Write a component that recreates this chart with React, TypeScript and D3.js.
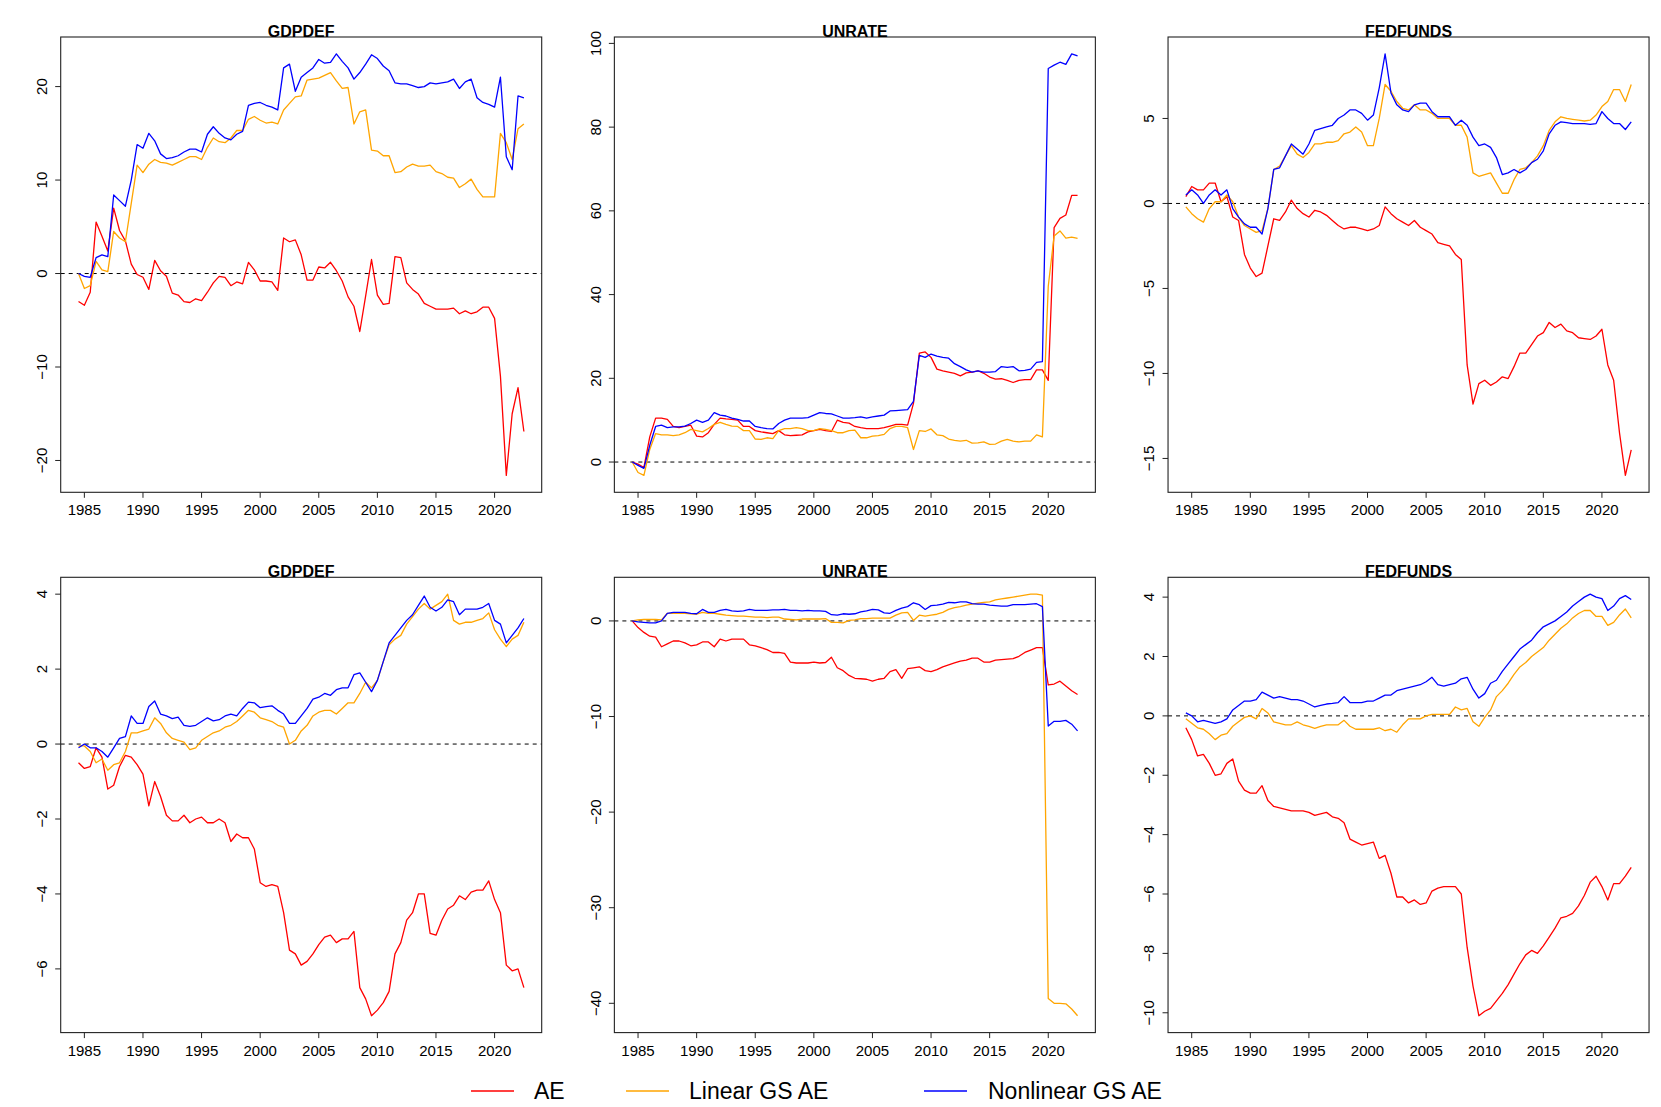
import React from 'react';
import * as d3 from 'd3';

// semi-annual sample dates
const years = [
  1984.5, 1985, 1985.5, 1986, 1986.5, 1987, 1987.5, 1988, 1988.5, 1989,
  1989.5, 1990, 1990.5, 1991, 1991.5, 1992, 1992.5, 1993, 1993.5, 1994,
  1994.5, 1995, 1995.5, 1996, 1996.5, 1997, 1997.5, 1998, 1998.5, 1999,
  1999.5, 2000, 2000.5, 2001, 2001.5, 2002, 2002.5, 2003, 2003.5, 2004,
  2004.5, 2005, 2005.5, 2006, 2006.5, 2007, 2007.5, 2008, 2008.5, 2009,
  2009.5, 2010, 2010.5, 2011, 2011.5, 2012, 2012.5, 2013, 2013.5, 2014,
  2014.5, 2015, 2015.5, 2016, 2016.5, 2017, 2017.5, 2018, 2018.5, 2019,
  2019.5, 2020, 2020.5, 2021, 2021.5, 2022, 2022.5,
];

// top row, GDPDEF
const gdpTopAE = [
  -3.0, -3.4, -2.0, 5.5, 4.0, 2.4, 7.0, 4.6, 3.5, 1.0,
  -0.1, -0.4, -1.7, 1.4, 0.3, -0.3, -2.1, -2.3, -3.0, -3.1,
  -2.7, -2.9, -2.0, -1.0, -0.3, -0.4, -1.3, -0.9, -1.1, 1.2,
  0.4, -0.8, -0.8, -0.9, -1.8, 3.8, 3.4, 3.6, 2.0, -0.7,
  -0.7, 0.7, 0.6, 1.2, 0.3, -0.8, -2.5, -3.5, -6.2, -2.4,
  1.5, -2.3, -3.3, -3.2, 1.8, 1.7, -1.0, -1.7, -2.2, -3.2,
  -3.5, -3.8, -3.8, -3.8, -3.7, -4.3, -4.0, -4.3, -4.1, -3.6,
  -3.6, -4.8, -11.0, -21.6, -15.0, -12.2, -16.9,
];
const gdpTopLin = [
  0, -1.6, -1.3, 1.3, 0.4, 0.2, 4.5, 3.8, 3.4, 7.5,
  11.6, 10.8, 11.7, 12.2, 11.9, 11.8, 11.6, 11.9, 12.2, 12.5,
  12.5, 12.2, 13.5, 14.5, 14.1, 14.0, 14.5, 15.3, 15.3, 16.5,
  16.8, 16.4, 16.1, 16.2, 16.0, 17.5, 18.2, 18.9, 19.0, 20.7,
  20.8, 20.9, 21.2, 21.5, 20.6, 19.8, 19.9, 16.0, 17.3, 17.5,
  13.2, 13.1, 12.6, 12.6, 10.8, 10.9, 11.4, 11.7, 11.5, 11.5,
  11.6, 10.9, 10.7, 10.3, 10.2, 9.2, 9.6, 10.1, 9.0, 8.2,
  8.2, 8.2, 15.0, 14.0, 12.2, 15.5, 16.0,
];
const gdpTopNonlin = [
  0, -0.3, -0.4, 1.7, 2.0, 1.8, 8.4, 7.8, 7.2, 10.0,
  13.8, 13.4, 15.0, 14.2, 12.8, 12.3, 12.4, 12.6, 13.0, 13.3,
  13.3, 13.0, 14.9, 15.7, 15.0, 14.5, 14.3, 14.9, 15.2, 18.0,
  18.2, 18.3, 18.0, 17.8, 17.5, 22.0, 22.4, 19.5, 21.0, 21.5,
  22.0, 22.9, 22.5, 22.6, 23.5, 22.7, 22.0, 20.8, 21.5, 22.4,
  23.4, 23.0, 22.2, 21.7, 20.4, 20.3, 20.3, 20.1, 19.9, 20.0,
  20.4, 20.3, 20.4, 20.5, 20.8, 19.8, 20.5, 20.8, 18.8, 18.3,
  18.1, 17.8, 21.0, 12.5, 11.1, 19.0, 18.8,
];

// top row, UNRATE
const unTopAE = [
  0, -0.5, -1.3, 6.0, 10.5, 10.5, 10.2, 8.5, 8.2, 8.5,
  8.8, 6.2, 6.0, 7.0, 9.0, 10.5, 10.3, 10.2, 10.0, 8.5,
  8.5, 7.5, 7.2, 7.0, 6.8, 7.5, 6.5, 6.3, 6.4, 6.5,
  7.2, 7.5, 7.8, 7.5, 7.3, 10.0, 9.5, 9.3, 8.5, 8.2,
  8.0, 8.0, 8.0, 8.2, 8.6, 9.0, 9.0, 8.8, 14.0, 26.0,
  26.3, 25.0, 22.2, 21.8, 21.5, 21.2, 20.6, 21.3, 21.5, 21.8,
  21.2, 20.3, 19.8, 19.9, 19.5, 19.0, 19.5, 19.7, 19.7, 22.0,
  22.0, 19.5, 56.0, 58.2, 59.0, 63.7, 63.7,
];
const unTopLin = [
  0, -2.5, -3.2, 3.0, 6.8, 6.5, 6.5, 6.3, 6.5, 7.0,
  7.8, 7.5, 7.2, 8.0, 9.0, 9.5, 9.0, 8.6, 8.5, 7.5,
  7.5, 5.5, 5.4, 5.8, 5.6, 7.5, 8.0, 8.0, 8.2, 8.0,
  7.5, 7.5, 8.0, 7.8, 7.5, 7.0, 7.0, 7.5, 7.6, 5.8,
  5.8, 6.2, 6.3, 6.6, 8.0, 8.5, 8.5, 8.2, 3.0, 7.5,
  7.3, 7.9, 6.5, 6.3, 5.5, 5.2, 5.0, 5.2, 4.5, 4.6,
  4.8, 4.2, 4.3, 5.0, 5.4, 5.0, 4.8, 5.0, 5.0, 6.5,
  6.0, 42.0, 54.0, 55.2, 53.5, 53.7, 53.4,
];
const unTopNonlin = [
  0, -0.8, -1.5, 4.0, 8.5, 8.8, 8.2, 8.4, 8.4, 8.6,
  9.2, 10.0, 9.5, 10.0, 11.8, 11.2, 11.0, 10.5, 10.2, 9.8,
  9.8, 8.5, 8.2, 8.0, 7.9, 9.2, 10.0, 10.5, 10.5, 10.5,
  10.6, 11.2, 11.8, 11.6, 11.5, 11.0, 10.5, 10.5, 10.6, 10.8,
  10.5, 10.8, 11.0, 11.2, 12.2, 12.3, 12.4, 12.5, 14.5, 25.5,
  25.0, 25.8, 25.3, 25.0, 24.8, 23.5, 22.8, 22.0, 21.5, 21.8,
  21.5, 21.5, 21.6, 22.8, 22.6, 22.8, 21.8, 21.9, 22.2, 23.8,
  24.0, 94.0, 94.8, 95.5, 95.0, 97.5, 97.0,
];

// top row, FEDFUNDS
const ffTopAE = [
  0.4, 1.0, 0.8, 0.8, 1.2, 1.2, 0.1, 0.4, -0.8, -1.0,
  -3.0, -3.8, -4.3, -4.1, -2.5, -0.9, -1.0, -0.5, 0.2, -0.3,
  -0.6, -0.8, -0.4, -0.5, -0.7, -1.0, -1.3, -1.5, -1.4, -1.4,
  -1.5, -1.6, -1.5, -1.3, -0.2, -0.6, -0.9, -1.1, -1.3, -1.0,
  -1.4, -1.6, -1.8, -2.3, -2.4, -2.5, -3.0, -3.3, -9.5, -11.8,
  -10.6, -10.4, -10.7, -10.5, -10.2, -10.3, -9.6, -8.8, -8.8, -8.3,
  -7.8, -7.6, -7.0, -7.3, -7.1, -7.5, -7.6, -7.9, -7.95, -8.0,
  -7.8, -7.4, -9.5, -10.4, -13.5, -16.0, -14.5,
];
const ffTopLin = [
  -0.2, -0.6, -0.9, -1.1, -0.3, 0.1, 0.1, 0.5, 0.1, -0.8,
  -1.3, -1.5, -1.7, -1.6, -0.3, 2.0, 2.2, 2.8, 3.4, 2.9,
  2.7, 3.0, 3.5, 3.5, 3.6, 3.6, 3.7, 4.1, 4.2, 4.5,
  4.2, 3.4, 3.4, 5.0, 7.0, 6.6, 6.0, 5.6, 5.5, 5.8,
  5.5, 5.5, 5.3, 5.0, 5.0, 5.0, 4.6, 4.6, 3.9, 1.8,
  1.6, 1.7, 1.8, 1.2, 0.6, 0.6, 1.4, 2.0, 2.1, 2.4,
  2.8, 3.4, 4.3, 4.8, 5.1, 5.0, 4.95, 4.9, 4.85, 4.9,
  5.2, 5.7, 6.0, 6.7, 6.7, 6.0, 7.0,
];
const ffTopNonlin = [
  0.5, 0.8, 0.5, 0.0, 0.5, 0.8, 0.5, 0.8, -0.3, -0.8,
  -1.2, -1.4, -1.4, -1.8, -0.3, 2.0, 2.1, 2.8, 3.5, 3.2,
  2.9, 3.5, 4.3, 4.4, 4.5, 4.6, 5.0, 5.2, 5.5, 5.5,
  5.3, 4.9, 5.2, 6.8, 8.8, 6.5, 5.8, 5.5, 5.4, 5.8,
  5.9, 5.9, 5.4, 5.1, 5.1, 5.1, 4.6, 4.9, 4.6, 3.9,
  3.4, 3.5, 3.3, 2.7, 1.7, 1.8, 2.0, 1.8, 2.0, 2.4,
  2.6, 3.1, 4.1, 4.6, 4.8, 4.75, 4.7, 4.7, 4.7, 4.65,
  4.7, 5.4, 5.0, 4.7, 4.7, 4.35, 4.8,
];

// bottom row, GDPDEF
const gdpBotAE = [
  -0.5, -0.65, -0.6, -0.1, -0.35, -1.2, -1.1, -0.6, -0.3, -0.35,
  -0.55, -0.8, -1.65, -1.0, -1.4, -1.9, -2.05, -2.05, -1.9, -2.1,
  -2.0, -1.95, -2.1, -2.1, -2.0, -2.1, -2.6, -2.4, -2.5, -2.5,
  -2.8, -3.7, -3.8, -3.75, -3.8, -4.5, -5.5, -5.6, -5.9, -5.8,
  -5.6, -5.35, -5.15, -5.1, -5.3, -5.2, -5.2, -5.0, -6.5, -6.8,
  -7.25, -7.1, -6.9, -6.6, -5.6, -5.3, -4.7, -4.5, -4.0, -4.0,
  -5.05, -5.1, -4.7, -4.4, -4.3, -4.05, -4.15, -3.95, -3.9, -3.9,
  -3.65, -4.15, -4.5, -5.9, -6.05, -6.0, -6.5,
];
const gdpBotLin = [
  -0.05, -0.05, -0.2, -0.5, -0.4, -0.7, -0.55, -0.5, -0.2, 0.3,
  0.3, 0.35, 0.4, 0.7, 0.55, 0.3, 0.15, 0.1, 0.05, -0.15,
  -0.1, 0.1, 0.2, 0.3, 0.35, 0.45, 0.5, 0.6, 0.75, 0.9,
  0.85, 0.7, 0.65, 0.6, 0.5, 0.45, 0.0, 0.1, 0.35, 0.5,
  0.75, 0.85, 0.9, 0.9, 0.8, 0.95, 1.1, 1.1, 1.35, 1.65,
  1.5, 1.7, 2.2, 2.65, 2.8, 2.9, 3.2, 3.4, 3.6, 3.75,
  3.6, 3.7, 3.8, 4.0, 3.3, 3.2, 3.25, 3.25, 3.3, 3.35,
  3.5, 3.05, 2.8, 2.6, 2.8, 2.9, 3.25,
];
const gdpBotNonlin = [
  -0.1, 0.0, -0.1, -0.1, -0.2, -0.35, -0.1, 0.15, 0.2, 0.75,
  0.55, 0.55, 1.0, 1.15, 0.8, 0.75, 0.68, 0.72, 0.5, 0.47,
  0.5, 0.6, 0.7, 0.62, 0.65, 0.75, 0.8, 0.75, 0.95, 1.12,
  1.1, 0.97, 1.0, 1.02, 0.9, 0.8, 0.55, 0.55, 0.75, 0.95,
  1.2, 1.25, 1.35, 1.3, 1.45, 1.5, 1.5, 1.85, 1.9, 1.65,
  1.4, 1.7, 2.2, 2.7, 2.9, 3.1, 3.3, 3.45, 3.7, 3.95,
  3.65, 3.55, 3.65, 3.85, 3.8, 3.45, 3.6, 3.6, 3.6, 3.65,
  3.75, 3.3, 3.2, 2.7, 2.9, 3.1, 3.35,
];

// bottom row, UNRATE
const unBotAE = [
  0, -0.7, -1.2, -1.6, -1.7, -2.7, -2.4, -2.1, -2.1, -2.3,
  -2.6, -2.5, -2.2, -2.2, -2.7, -1.9, -2.1, -1.9, -1.9, -1.9,
  -2.5, -2.6, -2.8, -3.0, -3.3, -3.3, -3.4, -4.3, -4.4, -4.4,
  -4.4, -4.3, -4.4, -4.35, -3.8, -4.9, -5.2, -5.7, -6.0, -6.05,
  -6.1, -6.3, -6.1, -6.0, -5.3, -5.1, -6.0, -5.0, -4.9, -4.8,
  -5.2, -5.3, -5.1, -4.8, -4.6, -4.4, -4.2, -4.1, -3.9, -3.9,
  -4.3, -4.3, -4.1, -4.05, -4.0, -3.95, -3.7, -3.3, -3.05, -2.8,
  -2.8, -6.7, -6.6, -6.3, -6.8, -7.3, -7.7,
];
const unBotLin = [
  0, 0.1, 0.15, 0.15, 0.15, 0.1, 0.8, 0.8, 0.8, 0.8,
  0.75, 0.7, 0.9, 0.8, 0.8, 0.7, 0.6, 0.55, 0.5, 0.5,
  0.45, 0.4, 0.4, 0.35, 0.4, 0.4, 0.2, 0.15, 0.1, 0.2,
  0.2, 0.2, 0.2, 0.25, -0.15, -0.15, -0.2, 0.05, 0.1, 0.25,
  0.25, 0.3, 0.3, 0.3, 0.3, 0.6, 0.85, 0.9, 0.05, 0.6,
  0.5, 0.6, 0.7, 0.9, 1.2, 1.4, 1.5, 1.65, 1.75, 1.85,
  1.95, 2.0, 2.2, 2.3, 2.4, 2.5, 2.6, 2.7, 2.8, 2.8,
  2.7, -39.5, -40.0, -40.0, -40.05, -40.6, -41.3,
];
const unBotNonlin = [
  0, -0.1, -0.15, -0.2, -0.2, 0.0, 0.8, 0.9, 0.9, 0.9,
  0.8, 0.75, 1.2, 0.9, 0.9, 1.1, 1.2, 1.05, 1.0, 1.05,
  1.2, 1.1, 1.1, 1.1, 1.15, 1.15, 1.2, 1.1, 1.1, 1.05,
  1.1, 1.05, 1.05, 1.0, 0.65, 0.6, 0.75, 0.7, 0.75, 0.95,
  1.05, 1.2, 1.15, 0.85, 0.8, 1.1, 1.35, 1.5, 1.9, 1.7,
  1.2, 1.6, 1.65, 1.75, 1.95, 1.9, 2.0, 2.0, 1.8, 1.75,
  1.75, 1.65, 1.6, 1.55, 1.55, 1.7, 1.7, 1.7, 1.75, 1.8,
  1.5, -11.0, -10.5, -10.5, -10.4, -10.8, -11.5,
];

// bottom row, FEDFUNDS
const ffBotAE = [
  -0.4, -0.8, -1.35, -1.3, -1.6, -2.0, -1.95, -1.6, -1.45, -2.2,
  -2.5, -2.6, -2.6, -2.35, -2.85, -3.05, -3.1, -3.15, -3.2, -3.2,
  -3.2, -3.25, -3.35, -3.3, -3.25, -3.4, -3.45, -3.6, -4.15, -4.25,
  -4.35, -4.3, -4.25, -4.8, -4.7, -5.3, -6.1, -6.1, -6.3, -6.2,
  -6.35, -6.3, -5.9, -5.8, -5.75, -5.75, -5.75, -6.0, -7.8, -9.1,
  -10.1, -9.95, -9.85, -9.6, -9.35, -9.05, -8.7, -8.35, -8.05, -7.9,
  -8.0, -7.75, -7.45, -7.15, -6.8, -6.75, -6.65, -6.4, -6.05, -5.6,
  -5.4, -5.75, -6.2, -5.65, -5.65, -5.4, -5.1,
];
const ffBotLin = [
  -0.1, -0.25, -0.4, -0.45, -0.6, -0.8, -0.65, -0.6, -0.35, -0.2,
  -0.05, 0.0, -0.1, 0.25, 0.1, -0.2, -0.25, -0.3, -0.3, -0.2,
  -0.3, -0.35, -0.42, -0.35, -0.3, -0.3, -0.3, -0.15, -0.35, -0.45,
  -0.45, -0.45, -0.45, -0.4, -0.5, -0.45, -0.55, -0.3, -0.1, -0.1,
  -0.1, 0.0, 0.05, 0.05, 0.05, 0.05, 0.3, 0.2, 0.25, -0.2,
  -0.35, -0.05, 0.2, 0.65, 0.85, 1.1, 1.4, 1.65, 1.8, 2.0,
  2.15, 2.3, 2.55, 2.75, 2.95, 3.1, 3.3, 3.45, 3.55, 3.55,
  3.35, 3.35, 3.05, 3.15, 3.4, 3.6, 3.3,
];
const ffBotNonlin = [
  0.1, 0.0, -0.2, -0.15, -0.2, -0.25, -0.2, -0.1, 0.2, 0.35,
  0.5, 0.5, 0.55, 0.8, 0.7, 0.6, 0.65, 0.6, 0.55, 0.55,
  0.5, 0.4, 0.3, 0.35, 0.4, 0.42, 0.45, 0.65, 0.45, 0.45,
  0.45, 0.5, 0.5, 0.6, 0.7, 0.7, 0.85, 0.9, 0.95, 1.0,
  1.05, 1.15, 1.3, 1.05, 1.0, 1.05, 1.1, 1.25, 1.3, 0.9,
  0.6, 0.75, 1.1, 1.2, 1.5, 1.75, 2.0, 2.25, 2.4, 2.55,
  2.8, 3.0, 3.1, 3.2, 3.35, 3.5, 3.7, 3.85, 4.0, 4.1,
  4.0, 3.95, 3.55, 3.7, 3.95, 4.05, 3.92,
];

const xTicks = [1985, 1990, 1995, 2000, 2005, 2010, 2015, 2020];
const gdpTopTicks = [-20, -10, 0, 10, 20];
const unTopTicks = [0, 20, 40, 60, 80, 100];
const ffTopTicks = [-15, -10, -5, 0, 5];
const gdpBotTicks = [-6, -4, -2, 0, 2, 4];
const unBotTicks = [-40, -30, -20, -10, 0];
const ffBotTicks = [-10, -8, -6, -4, -2, 0, 2, 4];

const seriesNames = ['AE', 'Linear GS AE', 'Nonlinear GS AE'];
const seriesColors = ['#ff0000', '#ffa500', '#0000ff'];

const panels = [
  { title: 'GDPDEF', series: [gdpTopAE, gdpTopLin, gdpTopNonlin], ticks: gdpTopTicks },
  { title: 'UNRATE', series: [unTopAE, unTopLin, unTopNonlin], ticks: unTopTicks },
  { title: 'FEDFUNDS', series: [ffTopAE, ffTopLin, ffTopNonlin], ticks: ffTopTicks },
  { title: 'GDPDEF', series: [gdpBotAE, gdpBotLin, gdpBotNonlin], ticks: gdpBotTicks },
  { title: 'UNRATE', series: [unBotAE, unBotLin, unBotNonlin], ticks: unBotTicks },
  { title: 'FEDFUNDS', series: [ffBotAE, ffBotLin, ffBotNonlin], ticks: ffBotTicks },
];

const W = 1661;
const H = 1107;
const FONT = "'Liberation Sans', Arial, Helvetica, sans-serif";

// R-style axis range: data range padded by 4% on each side
const padded = (ext: [number, number]): [number, number] => {
  const r = ext[1] - ext[0];
  return [ext[0] - 0.04 * r, ext[1] + 0.04 * r];
};

const fmt = (v: number) => String(v).replace('-', '\u2212');

const Panel = ({ p, idx }: { p: any; idx: number }) => {
  const col = idx % 3;
  const row = Math.floor(idx / 3);
  const left = 60.7 + col * 553.67;
  const right = left + 481;
  const top = 37 + row * 540.3;
  const bottom = top + 455.3;

  const x = d3.scaleLinear()
    .domain(padded(d3.extent(years) as [number, number]))
    .range([left, right]);
  const allVals = ([] as number[]).concat(...p.series);
  const y = d3.scaleLinear()
    .domain(padded(d3.extent(allVals) as [number, number]))
    .range([bottom, top]);

  const line = d3.line<number>()
    .x((_, i) => x(years[i]))
    .y((d) => y(d));

  return (
    <g>
      <line x1={left} x2={right} y1={y(0)} y2={y(0)}
        stroke="#000" strokeWidth={1} strokeDasharray="4,4" />
      {p.series.map((s: number[], i: number) => (
        <path key={i} d={line(s) || ''} fill="none" stroke={seriesColors[i]}
          strokeWidth={1.3} strokeLinejoin="round" />
      ))}
      <rect x={left} y={top} width={right - left} height={bottom - top}
        fill="none" stroke="#222" strokeWidth={1.1} />
      {xTicks.map((t) => (
        <g key={t}>
          <line x1={x(t)} x2={x(t)} y1={bottom} y2={bottom + 5.5} stroke="#222" strokeWidth={1} />
          <text x={x(t)} y={bottom + 23} textAnchor="middle" fontSize={15}
            fontFamily={FONT} fill="#000">{t}</text>
        </g>
      ))}
      {p.ticks.map((t: number) => (
        <g key={t}>
          <line x1={left - 5.5} x2={left} y1={y(t)} y2={y(t)} stroke="#222" strokeWidth={1} />
          <text transform={`translate(${left - 13.7},${y(t)}) rotate(-90)`}
            textAnchor="middle" fontSize={15} fontFamily={FONT} fill="#000">{fmt(t)}</text>
        </g>
      ))}
      <text x={(left + right) / 2} y={top - 0.5} textAnchor="middle" fontSize={16}
        fontWeight="bold" fontFamily={FONT} fill="#000">{p.title}</text>
    </g>
  );
};

const legendLineX = [471, 626, 924];
const legendTextX = [534, 689, 988];

export default function App() {
  return (
    <svg width={W} height={H} viewBox={`0 0 ${W} ${H}`}
      style={{ position: 'absolute', left: 0, top: 0, background: '#fff' }}>
      <rect x={0} y={0} width={W} height={H} fill="#fff" />
      {panels.map((p, i) => <Panel key={i} p={p} idx={i} />)}
      {seriesNames.map((name, i) => (
        <g key={name}>
          <line x1={legendLineX[i]} x2={legendLineX[i] + 43} y1={1091} y2={1091}
            stroke={seriesColors[i]} strokeWidth={1.5} />
          <text x={legendTextX[i]} y={1099} fontSize={23} fontFamily={FONT} fill="#000">{name}</text>
        </g>
      ))}
    </svg>
  );
}
